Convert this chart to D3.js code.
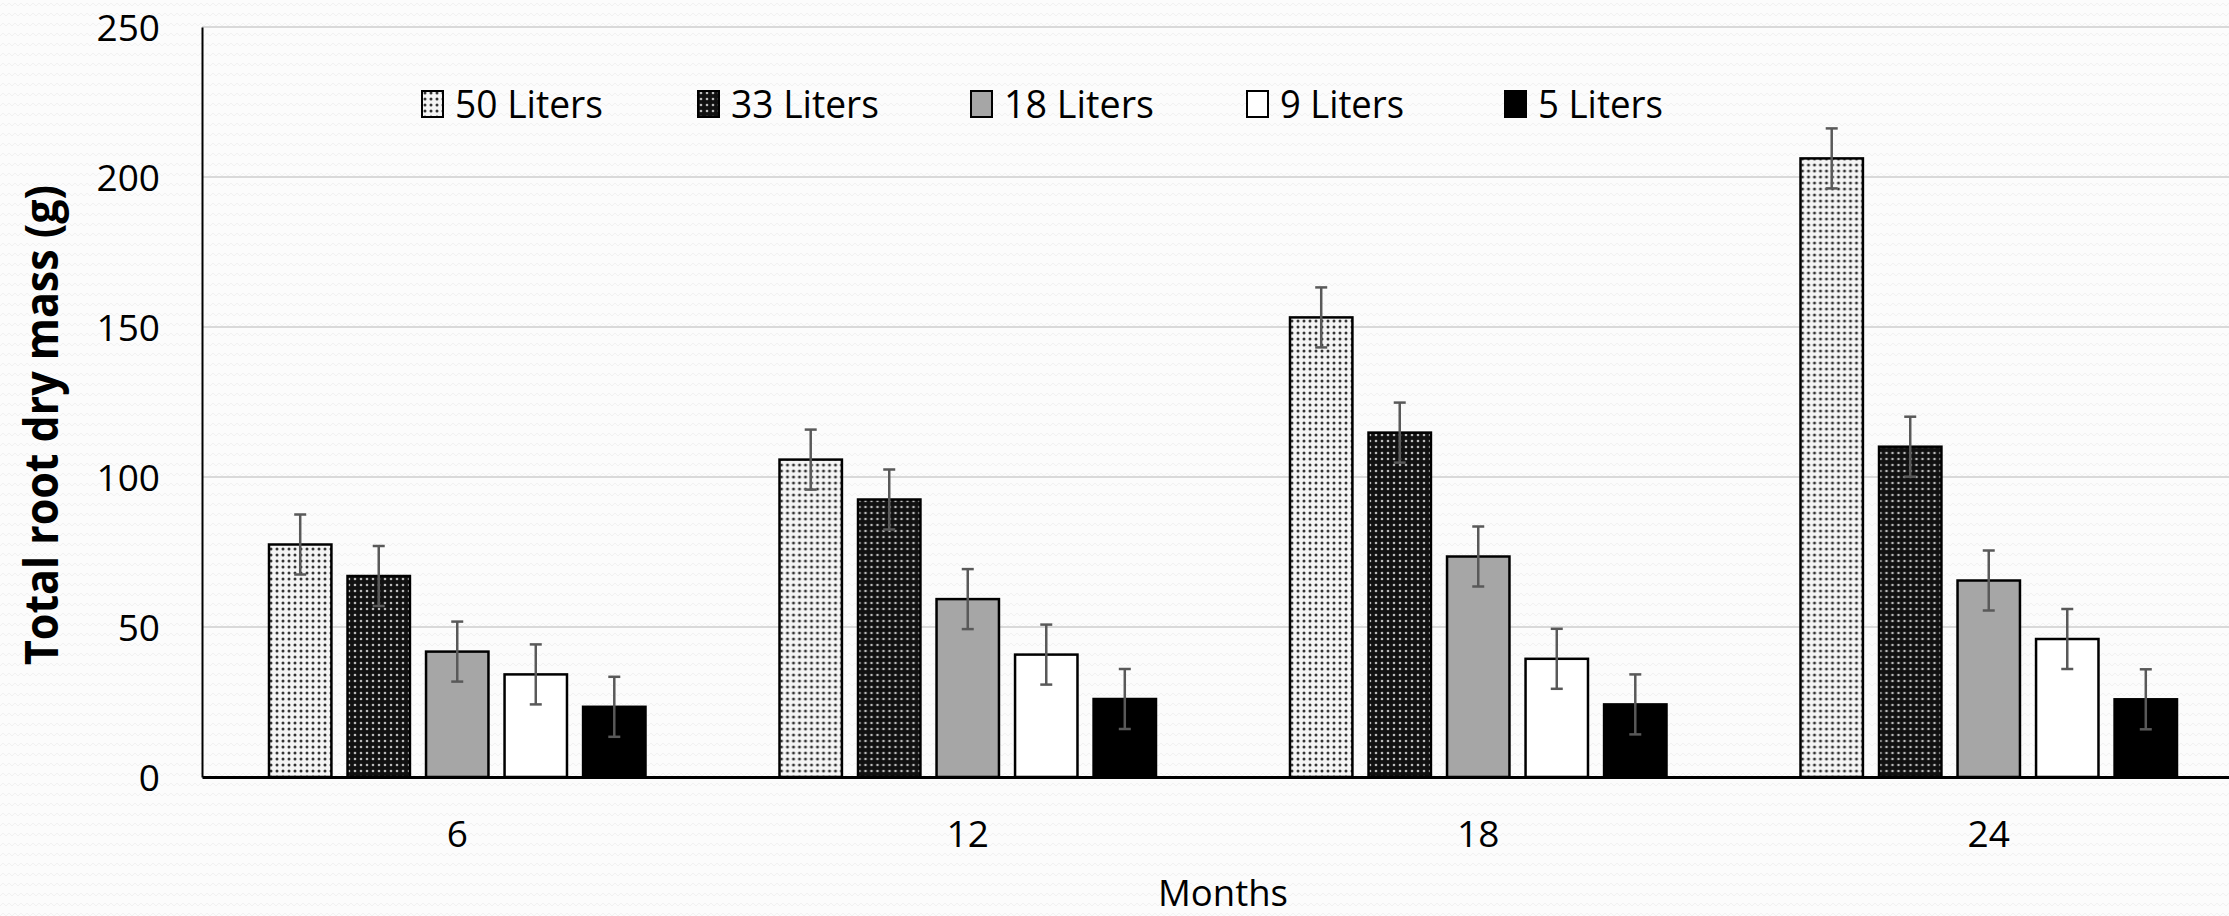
<!DOCTYPE html>
<html>
<head>
<meta charset="utf-8">
<script src="https://cdn.jsdelivr.net/npm/d3@7"></script>
<style>
  body { margin: 0; background: #fafafa; }
  svg { display: block; }
  text { font-family: "Open Sans", "Noto Sans", sans-serif; fill: #000; }
</style>
</head>
<body>
<div id="drawing"></div>
<script>
const width = 2229;
const height = 916;

// data
const months = ["6", "12", "18", "24"];
const series = ["50 Liters", "33 Liters", "18 Liters", "9 Liters", "5 Liters"];
const mass50 = [77.5, 105.8, 153.2, 206.2];
const mass33 = [67.0, 92.5, 114.8, 110.1];
const mass18 = [41.8, 59.3, 73.5, 65.5];
const mass9 = [34.2, 40.8, 39.4, 46.0];
const mass5 = [23.4, 26.0, 24.2, 25.9];
const errBar = [10, 10, 10, 10, 10];
const yTicks = [0, 50, 100, 150, 200, 250];

const seriesValues = [mass50, mass33, mass18, mass9, mass5];
const fills = ["url(#dots50)", "url(#dots33)", "#a6a6a6", "#ffffff", "#000000"];

let drawing = d3.select("#drawing").append("svg")
  .attr("width", width)
  .attr("height", height);

// background texture + bar patterns
const defs = drawing.append("defs");
const bg = defs.append("pattern").attr("id", "bgzig")
  .attr("patternUnits", "userSpaceOnUse").attr("width", 12).attr("height", 10);
bg.append("rect").attr("width", 12).attr("height", 10).attr("fill", "#fcfcfc");
bg.append("path").attr("d", "M0,6 L3,3 L6,6 L9,3 L12,6")
  .attr("fill", "none").attr("stroke", "#f1f1f1").attr("stroke-width", 1);

const p50 = defs.append("pattern").attr("id", "dots50")
  .attr("patternUnits", "userSpaceOnUse").attr("width", 6).attr("height", 6);
p50.append("rect").attr("width", 6).attr("height", 6).attr("fill", "#f4f4f4");
p50.append("circle").attr("cx", 3).attr("cy", 3).attr("r", 1.5).attr("fill", "#333");

const p33 = defs.append("pattern").attr("id", "dots33")
  .attr("patternUnits", "userSpaceOnUse").attr("width", 6).attr("height", 6);
p33.append("rect").attr("width", 6).attr("height", 6).attr("fill", "#111");
p33.append("circle").attr("cx", 3).attr("cy", 3).attr("r", 1.3).attr("fill", "#bbb");

drawing.append("rect").attr("width", width).attr("height", height).attr("fill", "url(#bgzig)");

// scales
const xScale = d3.scaleBand().domain(months).range([202, 2244]);
const xInner = d3.scaleBand().domain(series)
  .range([67, xScale.bandwidth() - 67]).paddingInner(0.205);
const yScale = d3.scaleLinear().domain([0, 250]).range([777, 27]);

// grid lines
drawing.append("g")
  .selectAll("line")
  .data(yTicks.filter(d => d > 0))
  .enter()
  .append("line")
    .attr("x1", 202).attr("x2", width)
    .attr("y1", d => yScale(d)).attr("y2", d => yScale(d))
    .style("stroke", "#d9d9d9")
    .style("stroke-width", 2)

// y axis
const yAxis = drawing.append("g")
  .attr("transform", "translate(202,0)")
  .call(d3.axisLeft(yScale).tickValues(yTicks).tickSize(0).tickPadding(42));
yAxis.select(".domain").attr("stroke", "#000").attr("stroke-width", 2);
yAxis.selectAll("text").style("font-size", "37px").attr("dy", "0.36em");

// bars
const groups = drawing.append("g").selectAll(".month")
  .data(months)
  .enter()
  .append("g")
    .attr("class", "month")
    .attr("transform", d => `translate(${xScale(d)},0)`);

groups.selectAll(".bar")
  .data((m, i) => series.map((s, j) => ({s: s, j: j, v: seriesValues[j][i], e: errBar[j]})))
  .enter()
  .append("rect")
    .attr("class", "bar")
    .attr("x", d => xInner(d.s))
    .attr("y", d => yScale(d.v))
    .attr("width", xInner.bandwidth())
    .attr("height", d => yScale(0) - yScale(d.v))
    .style("fill", d => fills[d.j])
    .style("stroke", "#000")
    .style("stroke-width", 2.5)

// error bars
const err = groups.selectAll(".err")
  .data((m, i) => series.map((s, j) => ({s: s, j: j, v: seriesValues[j][i], e: errBar[j]})))
  .enter()
  .append("g")
    .attr("class", "err")
    .attr("transform", d => `translate(${xInner(d.s) + xInner.bandwidth() / 2},0)`)
    .style("stroke", "#595959")
    .style("stroke-width", 2.5);
err.append("line").attr("y1", d => yScale(d.v + d.e)).attr("y2", d => yScale(d.v - d.e));
err.append("line").attr("x1", -6).attr("x2", 6)
  .attr("y1", d => yScale(d.v + d.e)).attr("y2", d => yScale(d.v + d.e));
err.append("line").attr("x1", -6).attr("x2", 6)
  .attr("y1", d => yScale(d.v - d.e)).attr("y2", d => yScale(d.v - d.e));

// x axis
const xAxis = drawing.append("g")
  .attr("transform", `translate(0,${yScale(0)})`)
  .call(d3.axisBottom(xScale).tickSize(0).tickPadding(44));
xAxis.select(".domain").attr("stroke", "#000").attr("stroke-width", 3);
xAxis.selectAll("text").style("font-size", "37px");

// axis titles
drawing.append("text")
  .attr("transform", "translate(58,425) rotate(-90)")
  .attr("text-anchor", "middle")
  .attr("textLength", 480)
  .attr("lengthAdjust", "spacingAndGlyphs")
  .style("font-size", "46px")
  .style("font-weight", "bold")
  .text("Total root dry mass (g)");

drawing.append("text")
  .attr("x", 1223).attr("y", 906)
  .attr("text-anchor", "middle")
  .attr("textLength", 130)
  .attr("lengthAdjust", "spacingAndGlyphs")
  .style("font-size", "37px")
  .text("Months");

// legend
const legendX = [422, 698, 971, 1247, 1505];
const legendW = [148, 148, 150, 124, 125];
const legend = drawing.append("g").selectAll(".legend")
  .data(series)
  .enter()
  .append("g")
    .attr("class", "legend")
    .attr("transform", (d, i) => `translate(${legendX[i]},0)`);
legend.append("rect")
  .attr("x", 0).attr("y", 91).attr("width", 21).attr("height", 26)
  .style("fill", (d, i) => fills[i])
  .style("stroke", "#000").style("stroke-width", 2);
legend.append("text")
  .attr("x", 33).attr("y", 118)
  .attr("textLength", (d, i) => legendW[i])
  .attr("lengthAdjust", "spacingAndGlyphs")
  .style("font-size", "38px")
  .text(d => d);
</script>
</body>
</html>
